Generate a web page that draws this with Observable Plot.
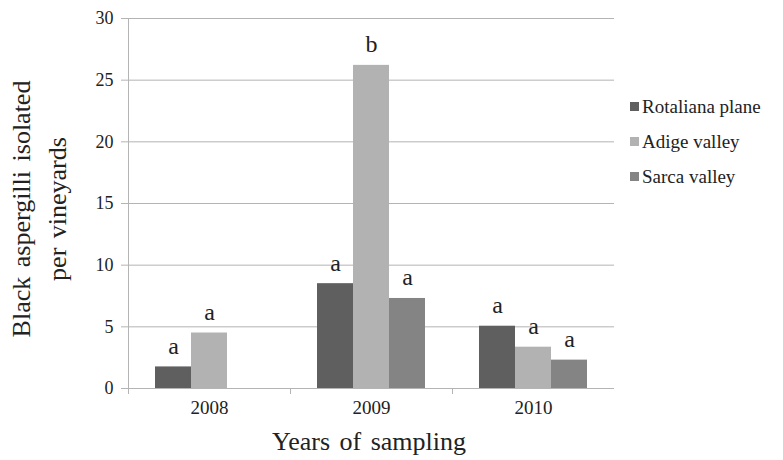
<!DOCTYPE html>
<html><head><meta charset="utf-8">
<script src="https://cdn.jsdelivr.net/npm/d3@7"></script>
<script src="https://cdn.jsdelivr.net/npm/@observablehq/plot@0.6"></script>
<style>body{margin:0;background:#fff} #chart{position:relative;width:783px;height:460px}</style>
</head><body><div id="chart"></div>
<script>
const years = ["2008", "2009", "2010"];
const regions = ["Rotaliana plane", "Adige valley", "Sarca valley"];
const colors = ["#5f5f5f", "#b2b2b2", "#848484"];
const rotaliana = [1.75, 8.5, 5.05];
const adige = [4.5, 26.2, 3.35];
const sarca = [null, 7.3, 2.3];
const rotalianaLetters = ["a", "a", "a"];
const adigeLetters = ["a", "b", "a"];
const sarcaLetters = [null, "a", "a"];
const yTicks = [0, 5, 10, 15, 20, 25, 30];
const yTitle = ["Black aspergilli isolated", "per vineyards"];
const xTitle = "Years of sampling";

const series = [rotaliana, adige, sarca];
const letters = [rotalianaLetters, adigeLetters, sarcaLetters];
const data = [];
regions.forEach((r, i) => years.forEach((y, j) => {
  if (series[i][j] != null) data.push({year: y, region: r, value: series[i][j], letter: letters[i][j]});
}));

const font = "'Liberation Serif', 'Times New Roman', serif";
const grid = "#b4b4b4";
const ink = "#222";

const svg = Plot.plot({
  width: 783, height: 460,
  marginLeft: 128, marginRight: 169, marginTop: 18, marginBottom: 72,
  style: {fontFamily: font, color: ink, background: "#fff"},
  fx: {domain: years, padding: 0, label: null},
  x: {domain: regions, paddingInner: 0, paddingOuter: 0.75, axis: null},
  y: {domain: [0, 30], label: null},
  color: {domain: regions, range: colors},
  marks: [
    Plot.ruleY(yTicks, {stroke: grid}),
    Plot.frame({anchor: "left", facetAnchor: "left", stroke: grid, insetBottom: -5}),
    Plot.frame({anchor: "left", stroke: grid, insetTop: 370, insetBottom: -5}),
    Plot.barY(data, {fx: "year", x: "region", y: "value", fill: "region"}),
    Plot.text(data, {fx: "year", x: "region", y: "value", text: "letter", dy: -13, lineAnchor: "bottom", fontSize: 24, fontFamily: font, fill: ink}),
    Plot.axisY(yTicks, {tickSize: 7, tickPadding: 8, stroke: grid, fill: ink, fontSize: 18, fontFamily: font, label: null}),
    Plot.axisFx({anchor: "bottom", tickSize: 0, tickPadding: 12, fontSize: 19, fontFamily: font, label: null, fill: ink})
  ]
});

const s = d3.select(svg);
const yt = s.append("text")
  .attr("transform", "translate(0,209) rotate(-90)")
  .attr("text-anchor", "middle").attr("word-spacing", 3)
  .attr("font-size", 26).attr("font-family", font).attr("fill", ink);
yTitle.forEach((t, i) => yt.append("tspan").attr("x", 0).attr("y", 30 + i * 36).text(t));

s.append("text").attr("x", 369).attr("y", 450).attr("text-anchor", "middle").attr("word-spacing", 3)
  .attr("font-size", 26).attr("font-family", font).attr("fill", ink).text(xTitle);

const lg = s.append("g").attr("font-family", font).attr("font-size", 19).attr("fill", ink).attr("text-anchor", "start");
regions.forEach((r, i) => {
  const by = 113 + i * 35;
  lg.append("rect").attr("x", 630).attr("y", by - 11).attr("width", 9).attr("height", 9).attr("fill", colors[i]);
  lg.append("text").attr("x", 642).attr("y", by).attr("text-anchor", "start").text(r);
});

document.getElementById("chart").appendChild(svg);
</script>
</body></html>
